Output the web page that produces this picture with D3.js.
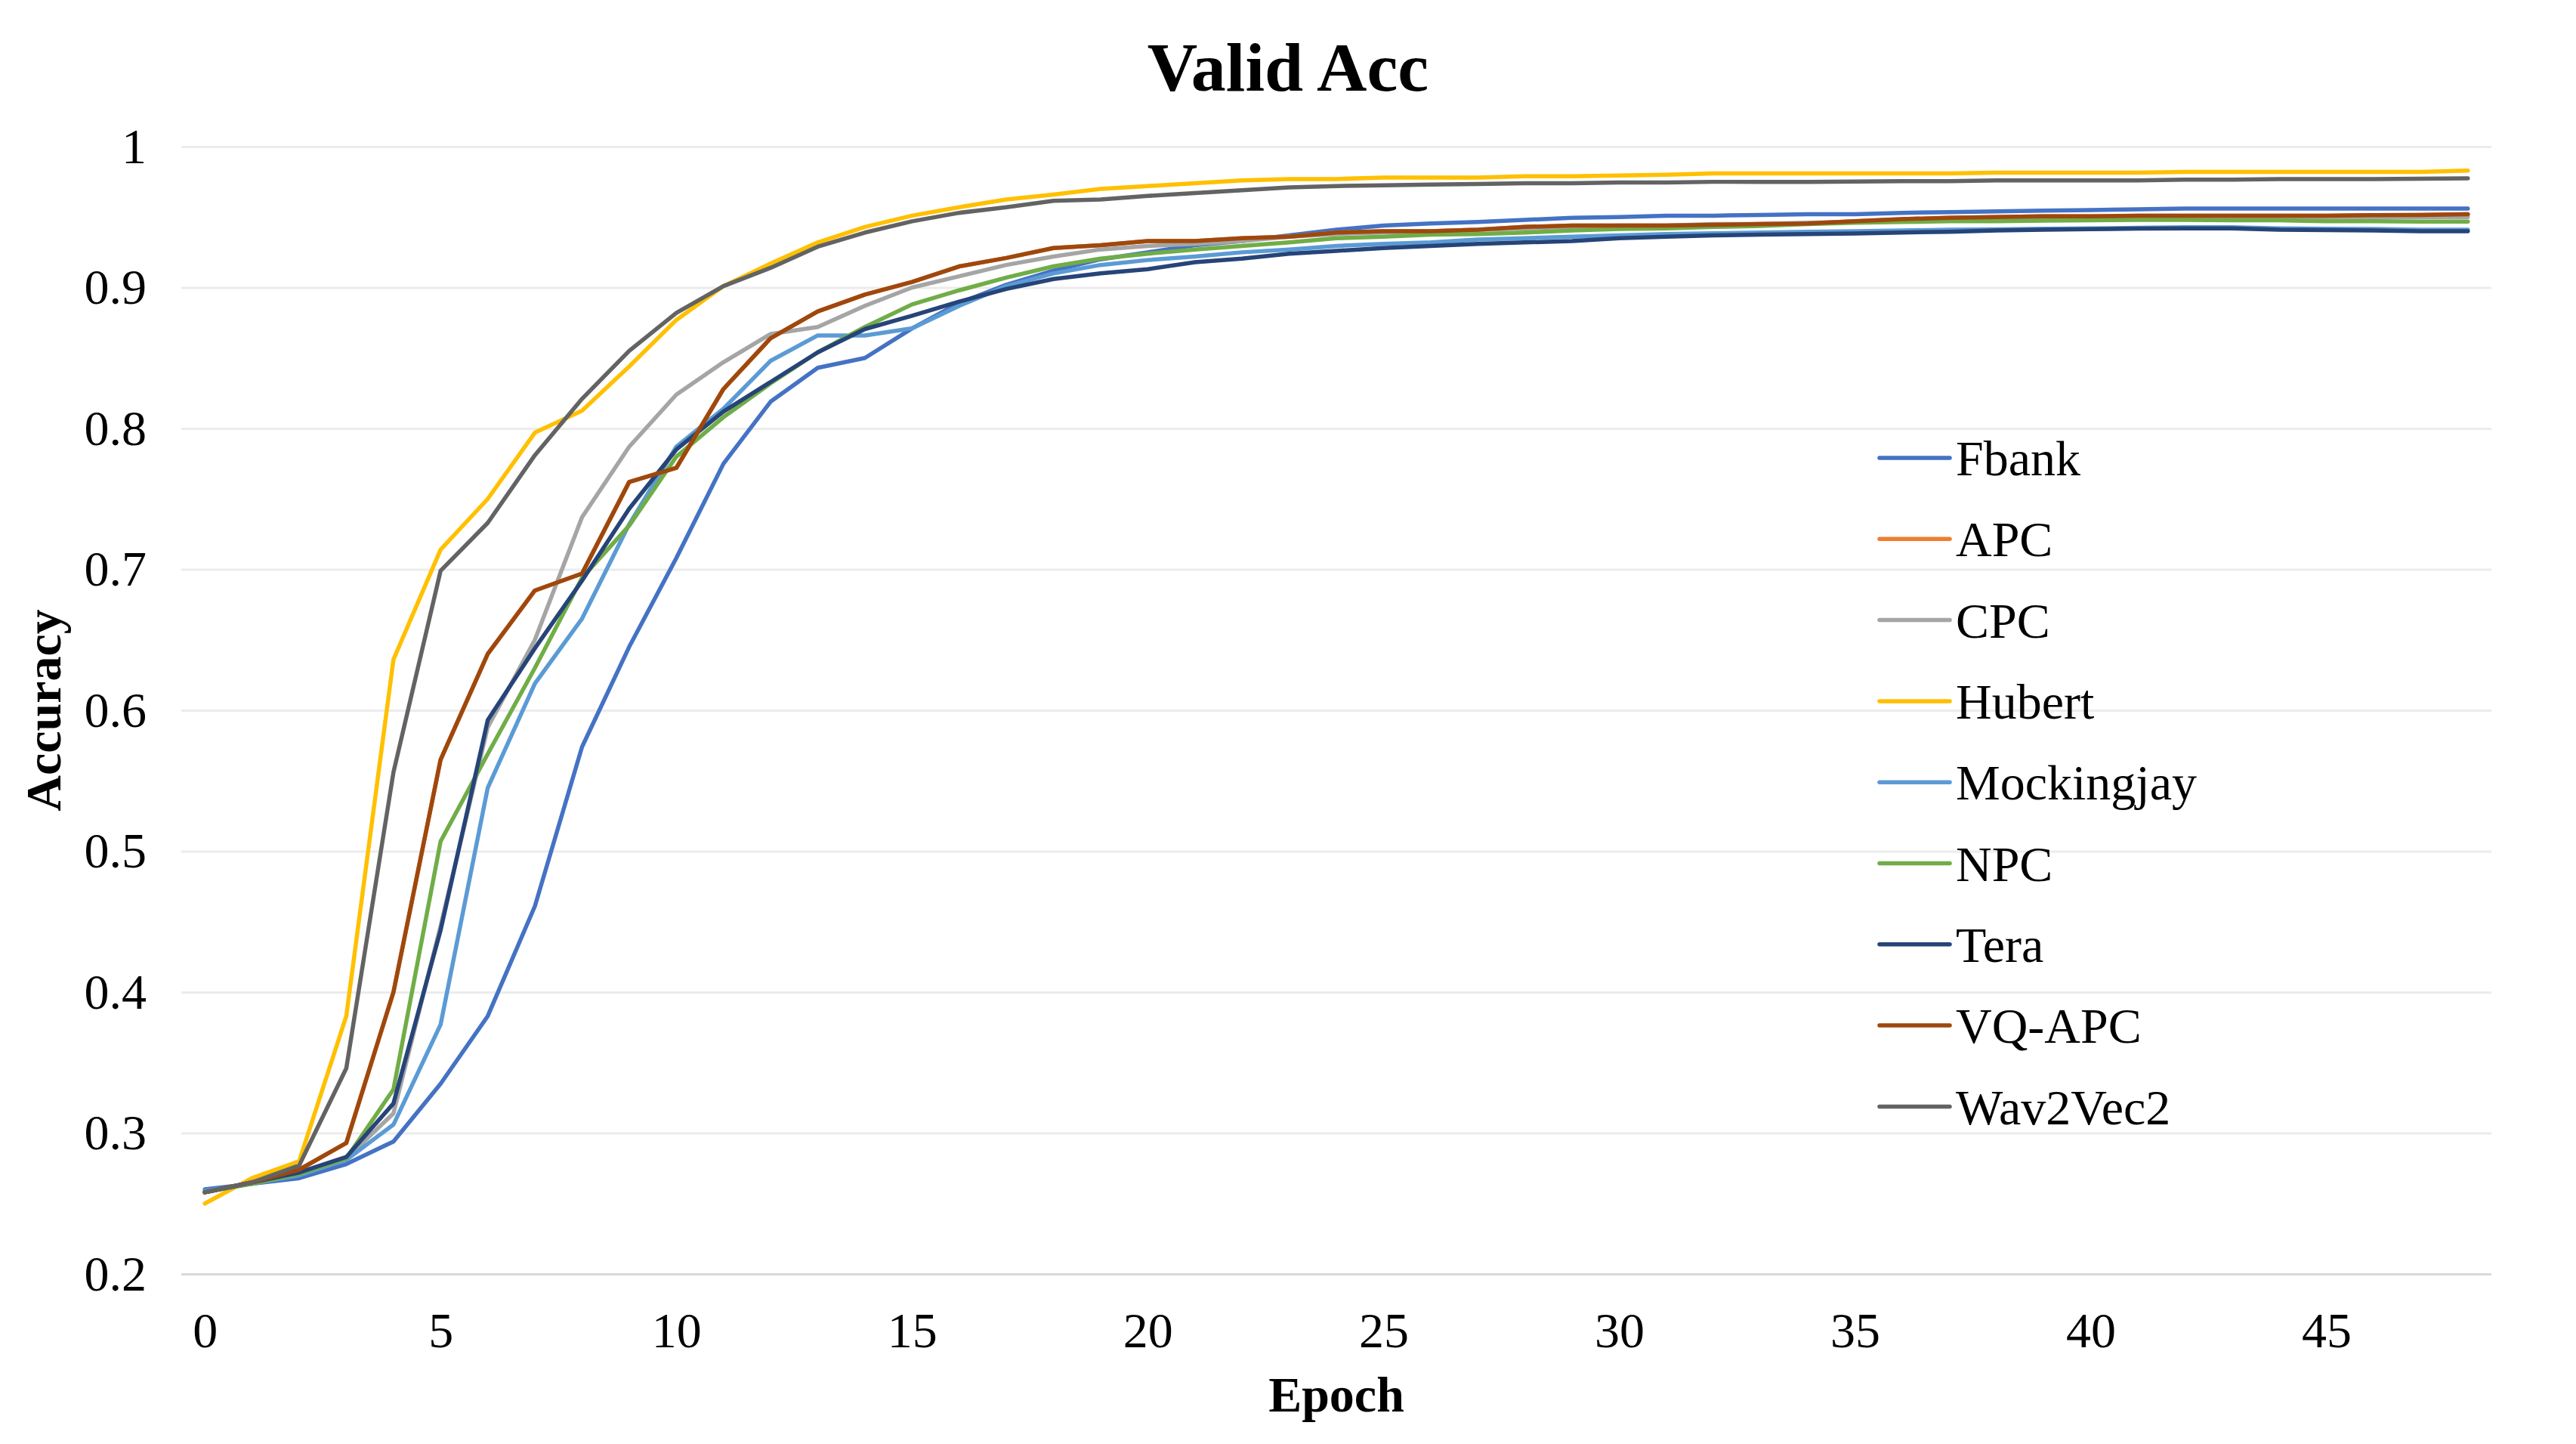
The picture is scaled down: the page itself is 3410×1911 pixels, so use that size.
<!DOCTYPE html>
<html>
<head>
<style>
  body { margin: 0; background: #ffffff; }
  svg text { font-family: "Liberation Serif", "Times New Roman", serif; fill: #000; }
</style>
<script src="https://d3js.org/d3.v7.min.js"></script>
</head>
<body>
<script>
// data
const epochs = d3.range(0, 49);
const xTickLabels = [0, 5, 10, 15, 20, 25, 30, 35, 40, 45];
const yTickLabels = [0.2, 0.3, 0.4, 0.5, 0.6, 0.7, 0.8, 0.9, 1];
const seriesNames = ["Fbank", "APC", "CPC", "Hubert", "Mockingjay", "NPC", "Tera", "VQ-APC", "Wav2Vec2"];
const seriesColors = ["#4472C4", "#ED7D31", "#A5A5A5", "#FFC000", "#5B9BD5", "#70AD47", "#264478", "#9E480E", "#636363"];

const fbank = [0.260, 0.264, 0.268, 0.278, 0.294, 0.335, 0.383, 0.461, 0.574, 0.645,
  0.708, 0.775, 0.819, 0.843, 0.850, 0.871, 0.889, 0.902, 0.912, 0.920,
  0.925, 0.930, 0.933, 0.937, 0.941, 0.944, 0.9455, 0.9465, 0.948, 0.9495,
  0.950, 0.951, 0.951, 0.9515, 0.952, 0.952, 0.953, 0.9535, 0.954, 0.9545,
  0.955, 0.9555, 0.956, 0.956, 0.956, 0.956, 0.956, 0.956, 0.956];
const apc = [0.258, 0.265, 0.274, 0.293, 0.400, 0.565, 0.640, 0.685, 0.697, 0.762,
  0.772, 0.828, 0.864, 0.883, 0.895, 0.904, 0.915, 0.921, 0.928, 0.930,
  0.933, 0.933, 0.935, 0.936, 0.939, 0.940, 0.940, 0.941, 0.943, 0.944,
  0.944, 0.944, 0.9445, 0.945, 0.9455, 0.947, 0.9485, 0.9495, 0.950, 0.9505,
  0.9505, 0.951, 0.951, 0.951, 0.951, 0.951, 0.9513, 0.9515, 0.952];
const cpc = [0.258, 0.265, 0.271, 0.282, 0.314, 0.447, 0.588, 0.650, 0.737, 0.787,
  0.824, 0.847, 0.867, 0.872, 0.887, 0.900, 0.908, 0.916, 0.922, 0.927,
  0.9295, 0.931, 0.933, 0.936, 0.938, 0.939, 0.940, 0.941, 0.942, 0.943,
  0.944, 0.944, 0.945, 0.945, 0.946, 0.9465, 0.947, 0.948, 0.9485, 0.949,
  0.949, 0.9495, 0.950, 0.950, 0.950, 0.950, 0.950, 0.950, 0.950];
const hubert = [0.250, 0.268, 0.280, 0.383, 0.636, 0.714, 0.750, 0.797, 0.8126, 0.844,
  0.877, 0.901, 0.917, 0.932, 0.943, 0.951, 0.957, 0.9625, 0.966, 0.970,
  0.972, 0.974, 0.976, 0.977, 0.977, 0.978, 0.978, 0.978, 0.979, 0.979,
  0.9795, 0.980, 0.981, 0.981, 0.981, 0.981, 0.981, 0.981, 0.9815, 0.9815,
  0.9815, 0.9815, 0.982, 0.982, 0.982, 0.982, 0.982, 0.982, 0.983];
const mockingjay = [0.259, 0.264, 0.270, 0.281, 0.306, 0.377, 0.545, 0.619, 0.665, 0.732,
  0.787, 0.814, 0.848, 0.866, 0.866, 0.871, 0.887, 0.901, 0.910, 0.916,
  0.9195, 0.922, 0.925, 0.927, 0.9295, 0.931, 0.932, 0.934, 0.935, 0.936,
  0.937, 0.938, 0.9385, 0.939, 0.9395, 0.940, 0.9405, 0.941, 0.9413, 0.9417,
  0.942, 0.9423, 0.9427, 0.9427, 0.942, 0.9417, 0.9415, 0.941, 0.941];
const npc = [0.258, 0.264, 0.271, 0.282, 0.331, 0.507, 0.569, 0.630, 0.694, 0.731,
  0.780, 0.808, 0.832, 0.854, 0.872, 0.888, 0.898, 0.907, 0.915, 0.9205,
  0.924, 0.927, 0.9295, 0.932, 0.935, 0.936, 0.9375, 0.938, 0.939, 0.9405,
  0.9415, 0.942, 0.943, 0.9437, 0.945, 0.946, 0.9465, 0.947, 0.947, 0.9475,
  0.9477, 0.948, 0.948, 0.9477, 0.9477, 0.947, 0.947, 0.9468, 0.9468];
const tera = [0.258, 0.265, 0.272, 0.283, 0.321, 0.444, 0.593, 0.644, 0.692, 0.743,
  0.785, 0.812, 0.833, 0.854, 0.8705, 0.880, 0.890, 0.899, 0.906, 0.910,
  0.913, 0.918, 0.9205, 0.924, 0.926, 0.928, 0.9295, 0.931, 0.932, 0.933,
  0.935, 0.936, 0.937, 0.9375, 0.938, 0.9384, 0.939, 0.9396, 0.9405, 0.941,
  0.9414, 0.9418, 0.942, 0.942, 0.941, 0.9408, 0.9405, 0.940, 0.940];
const vqApc = [0.258, 0.265, 0.274, 0.293, 0.400, 0.565, 0.640, 0.685, 0.697, 0.762,
  0.772, 0.828, 0.864, 0.883, 0.895, 0.904, 0.915, 0.921, 0.928, 0.930,
  0.933, 0.933, 0.935, 0.936, 0.939, 0.940, 0.940, 0.941, 0.943, 0.944,
  0.944, 0.944, 0.9445, 0.945, 0.9455, 0.947, 0.9485, 0.9495, 0.950, 0.9505,
  0.9505, 0.951, 0.951, 0.951, 0.951, 0.951, 0.9513, 0.9515, 0.952];
const wav2vec2 = [0.258, 0.265, 0.277, 0.346, 0.556, 0.699, 0.733, 0.781, 0.821, 0.855,
  0.882, 0.901, 0.914, 0.929, 0.939, 0.947, 0.953, 0.957, 0.9615, 0.9625,
  0.965, 0.967, 0.969, 0.971, 0.972, 0.9725, 0.973, 0.9735, 0.974, 0.974,
  0.9745, 0.9745, 0.975, 0.975, 0.975, 0.9752, 0.9755, 0.9755, 0.976, 0.976,
  0.976, 0.976, 0.9765, 0.9765, 0.977, 0.977, 0.977, 0.9772, 0.9775];

const seriesValues = [fbank, apc, cpc, hubert, mockingjay, npc, tera, vqApc, wav2vec2];

const W = 3410, H = 1911;
const plotLeft = 240, plotRight = 3298, plotTop = 194, plotBottom = 1686;
const fontSize = 66;

const svg = d3.select("body").append("svg")
  .attr("width", W)
  .attr("height", H)
  .style("background", "#fff");

const x = d3.scalePoint().domain(epochs).range([plotLeft, plotRight]).padding(0.5);
const y = d3.scaleLinear().domain([0.2, 1]).range([plotBottom, plotTop]);

// gridlines + y labels
const yAxis = svg.append("g")
  .attr("transform", `translate(${plotLeft},0)`)
  .call(d3.axisLeft(y).tickValues(yTickLabels).tickSize(-(plotRight - plotLeft)).tickPadding(46)
    .tickFormat(d => d3.format("~g")(d)));
yAxis.select(".domain").remove();
yAxis.selectAll(".tick line")
  .attr("stroke", d => d === 0.2 ? "#d9d9d9" : "#ececec")
  .attr("stroke-width", 3);
yAxis.selectAll(".tick text")
  .style("font-size", fontSize + "px");

// x labels
const xAxis = svg.append("g")
  .attr("transform", `translate(0,${plotBottom})`)
  .call(d3.axisBottom(x).tickValues(xTickLabels).tickSize(0).tickPadding(50));
xAxis.select(".domain").remove();
xAxis.selectAll(".tick text")
  .style("font-size", fontSize + "px");

// lines
const line = d3.line()
  .x((d, i) => x(epochs[i]))
  .y(d => y(d));

svg.append("g")
  .selectAll("path")
  .data(seriesValues)
  .enter()
  .append("path")
  .attr("d", d => line(d))
  .attr("fill", "none")
  .attr("stroke", (d, i) => seriesColors[i])
  .attr("stroke-width", 5.5)
  .attr("stroke-linejoin", "round")
  .attr("stroke-linecap", "round");

// title and axis names
svg.append("text")
  .attr("x", W / 2)
  .attr("y", 120)
  .attr("text-anchor", "middle")
  .style("font-size", "92px")
  .style("font-weight", "bold")
  .text("Valid Acc");

svg.append("text")
  .attr("x", (plotLeft + plotRight) / 2)
  .attr("y", 1868)
  .attr("text-anchor", "middle")
  .style("font-size", fontSize + "px")
  .style("font-weight", "bold")
  .text("Epoch");

svg.append("text")
  .attr("transform", `translate(80,${(plotTop + plotBottom) / 2}) rotate(-90)`)
  .attr("text-anchor", "middle")
  .style("font-size", fontSize + "px")
  .style("font-weight", "bold")
  .text("Accuracy");

// legend
const legend = svg.append("g").attr("transform", "translate(2488,606)");
const item = legend.selectAll("g")
  .data(seriesNames)
  .enter()
  .append("g")
  .attr("transform", (d, i) => `translate(0,${i * 107.3})`);
item.append("line")
  .attr("x1", 0).attr("x2", 93)
  .attr("stroke", (d, i) => seriesColors[i])
  .attr("stroke-width", 5.5)
  .attr("stroke-linecap", "round");
item.append("text")
  .attr("x", 101)
  .attr("dy", "0.35em")
  .style("font-size", fontSize + "px")
  .text(d => d);
</script>
</body>
</html>
